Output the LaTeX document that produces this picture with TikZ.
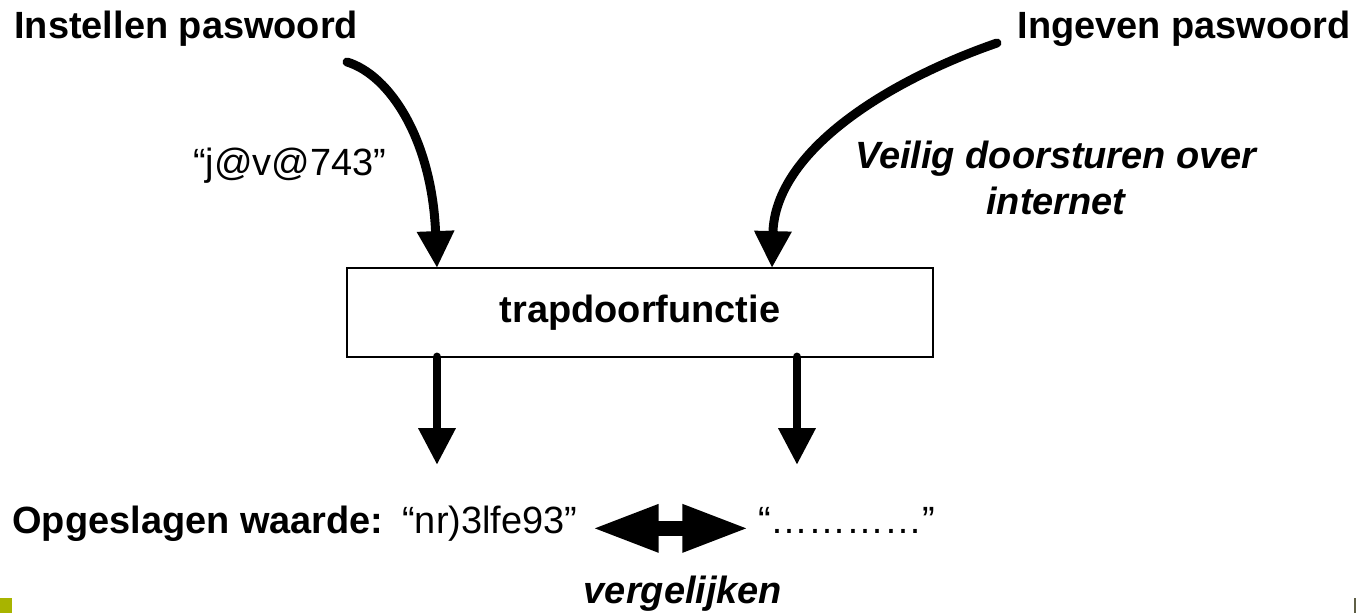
\documentclass[tikz,border=0pt]{standalone}
\usepackage{fontspec}
\setmainfont{Liberation Sans}
\usetikzlibrary{arrows.meta}

\definecolor{olive}{RGB}{168,180,0}
\definecolor{edgegray}{RGB}{95,95,70}

\tikzset{
  lbl/.style={inner sep=0pt,font=\fontsize{21.6}{26}\selectfont,text height=0.75em,text depth=0.22em},
  boldlbl/.style={lbl,font=\fontsize{21.6}{26}\selectfont\bfseries},
  fat/.style={line width=5.1pt,line cap=round,-{Triangle[length=21pt,width=20pt]}},
}

\begin{document}
\begin{tikzpicture}[x=0.02cm,y=-0.02cm]
  \useasboundingbox (0,0) rectangle (1357,613);
  \fill[olive] (0,598) rectangle (12,613);
  \fill[edgegray] (1354,598) rectangle (1356,613);

  \node[boldlbl,anchor=base west] (instellen) at (14,38) {Instellen paswoord};
  \node[boldlbl,anchor=base east] (ingeven) at (1351,38) {Ingeven paswoord};
  \node[lbl,anchor=base west] (pwd) at (193,175) {“j@v@743”};
  \node[inner sep=0pt,align=center,anchor=north,font=\fontsize{21.6}{26}\selectfont\bfseries\itshape]
    (veilig) at (1056,141) {Veilig doorsturen over\\internet};

  \node[draw,line width=1.2pt,minimum width=11.72cm,minimum height=1.78cm,
    font=\fontsize{21.6}{26}\selectfont\bfseries] (trap) at (640,312.5) {trapdoorfunctie};

  \node[boldlbl,anchor=base west] (opgeslagen) at (12,533) {Opgeslagen waarde:};
  \node[lbl,anchor=base west] (hash) at (402,533) {“nr)3lfe93”};
  \node[lbl,anchor=base west] (invoer) at (758,533) {“…………”};
  \node[inner sep=0pt,anchor=base,font=\fontsize{21.6}{26}\selectfont\bfseries\itshape]
    (vergelijken) at (683,603) {vergelijken};

  \coordinate (startA) at (347,62);
  \coordinate (inA) at (437,268);
  \coordinate (startB) at (997,43);
  \coordinate (inB) at (772,268);
  \coordinate (outA) at (437,357);
  \coordinate (outB) at (797,357);
  \coordinate (endA) at (437,465);
  \coordinate (endB) at (797,465);

  \draw[fat] (startA) .. controls (390,75) and (432,140) .. (inA);
  \draw[fat] (startB) .. controls (890,80) and (775,150) .. (inB);
  \draw[fat] (outA) -- (endA);
  \draw[fat] (outB) -- (endB);

  \draw[line width=8.5pt,{Triangle[length=38pt,width=25pt]}-{Triangle[length=38pt,width=25pt]},
    shorten <=8,shorten >=5] (hash.east) -- (invoer.west);
\end{tikzpicture}
\end{document}
